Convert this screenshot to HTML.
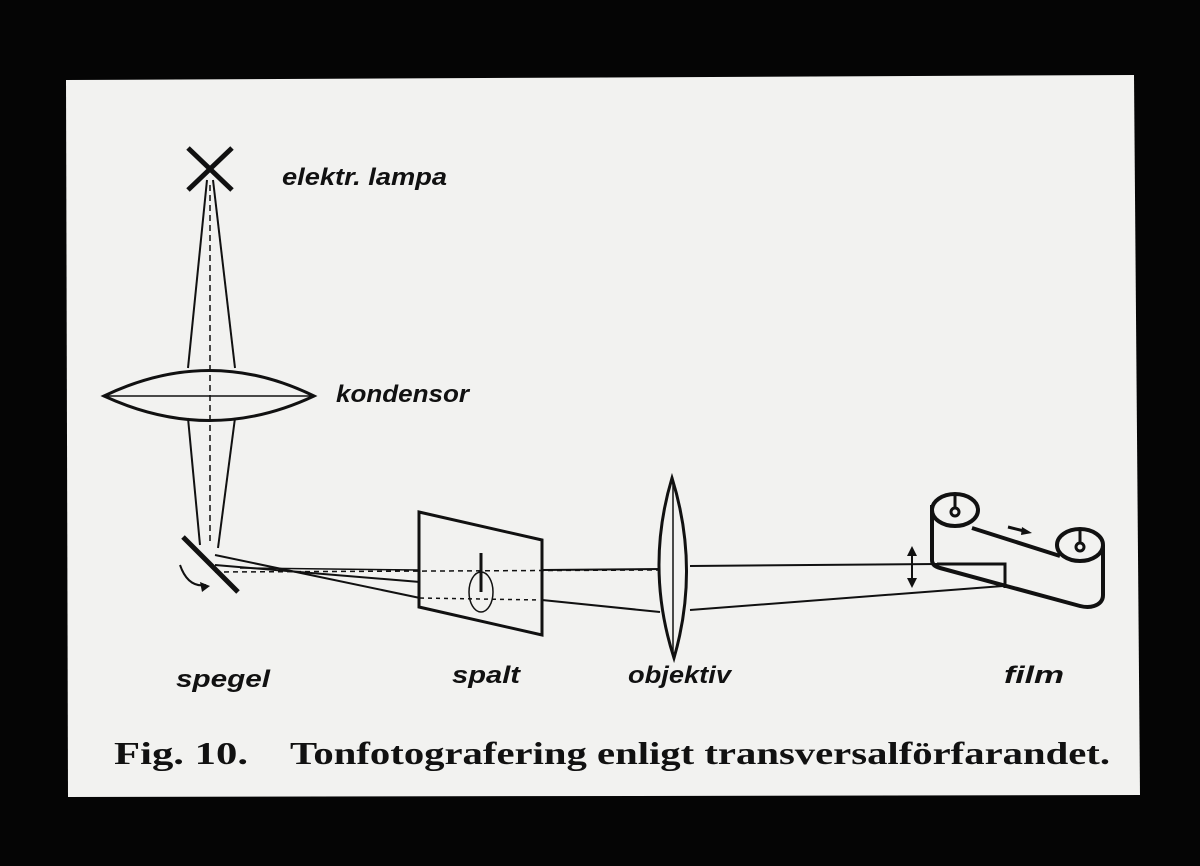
<!DOCTYPE html>
<html><head><style>
html,body{margin:0;padding:0;background:#000;}
svg{display:block;}
</style></head><body>
<svg width="1200" height="866" viewBox="0 0 1200 866" xmlns="http://www.w3.org/2000/svg">
<rect width="1200" height="866" fill="#050505"/>
<polygon points="66,80 1134,75 1140,795 68,797" fill="#f2f2f0"/>
<g stroke="#111" fill="none" stroke-width="2">
<line x1="188" y1="148" x2="232" y2="190" stroke-width="5"/>
<line x1="232" y1="148" x2="188" y2="190" stroke-width="5"/>
<line x1="207" y1="180" x2="188" y2="368"/>
<line x1="213" y1="180" x2="235" y2="368"/>
<line x1="210" y1="185" x2="210" y2="545" stroke-dasharray="6,4" stroke-width="1.5"/>
<path d="M104,396 Q210,345 314,396 Q210,445 104,396 Z" stroke-width="3"/>
<line x1="104" y1="396" x2="314" y2="396" stroke-width="1.5"/>
<line x1="188" y1="418" x2="200" y2="545"/>
<line x1="235" y1="418" x2="218" y2="548"/>
<line x1="183" y1="537" x2="238" y2="592" stroke-width="5"/>
<path d="M180,565 Q188,588 206,585" stroke-width="2"/>
<line x1="215" y1="555" x2="420" y2="598"/>
<line x1="215" y1="565" x2="420" y2="582"/>
<line x1="215" y1="572" x2="660" y2="570" stroke-dasharray="5,4" stroke-width="1.5"/>
<line x1="240" y1="568" x2="420" y2="570" stroke-width="1.5"/>
<polygon points="419,512 542,540 542,635 419,607" stroke-width="3"/>
<ellipse cx="481" cy="592" rx="12" ry="20" stroke-width="1.5"/>
<line x1="481" y1="553" x2="481" y2="592" stroke-width="3"/>
<line x1="420" y1="598" x2="540" y2="600" stroke-dasharray="4,4" stroke-width="1.5"/>
<line x1="542" y1="600" x2="660" y2="612"/>
<line x1="542" y1="570" x2="660" y2="569"/>
<path d="M672,478 Q700,568 674,658 Q645,568 672,478 Z" stroke-width="3"/>
<line x1="673" y1="480" x2="673" y2="656" stroke-width="1.5"/>
<line x1="690" y1="566" x2="937" y2="564"/>
<line x1="690" y1="610" x2="1003" y2="586"/>
<line x1="912" y1="553" x2="912" y2="582" stroke-width="2"/>
<!-- film -->
<path d="M932,505 L932,560 Q932,566 940,568 L1080,606 Q1088,608 1094,606 Q1103,603 1103,595 L1103,545" stroke-width="4"/>
<line x1="972" y1="528" x2="1060" y2="556" stroke-width="4"/>
<path d="M937,564 L1005,564 L1005,588" stroke-width="3"/>
<ellipse cx="955" cy="510" rx="23" ry="16" stroke-width="4"/>
<ellipse cx="1080" cy="545" rx="23" ry="16" stroke-width="4"/>
<circle cx="955" cy="512" r="4" stroke-width="3"/>
<circle cx="1080" cy="547" r="4" stroke-width="3"/>
<line x1="955" y1="496" x2="955" y2="508" stroke-width="3"/>
<line x1="1080" y1="531" x2="1080" y2="543" stroke-width="3"/>
<line x1="1008" y1="527" x2="1024" y2="531" stroke-width="3"/>
</g>
<g fill="#111">
<polygon points="907,556 917,556 912,546"/>
<polygon points="907,578 917,578 912,588"/>
<polygon points="200,582 210,586 202,592"/>
<polygon points="1022,527 1032,533 1021,535"/>
</g>
<g font-family="'Liberation Sans',sans-serif" font-style="italic" font-weight="bold" font-size="24" fill="#111">
<text x="282" y="185" textLength="165" lengthAdjust="spacingAndGlyphs">elektr. lampa</text>
<text x="336" y="402" textLength="133" lengthAdjust="spacingAndGlyphs">kondensor</text>
<text x="176" y="687" textLength="94" lengthAdjust="spacingAndGlyphs">spegel</text>
<text x="452" y="683" textLength="68" lengthAdjust="spacingAndGlyphs">spalt</text>
<text x="628" y="683" textLength="103" lengthAdjust="spacingAndGlyphs">objektiv</text>
<text x="1004" y="683" textLength="60" lengthAdjust="spacingAndGlyphs">film</text>
</g>
<g font-family="'Liberation Serif',serif" font-weight="bold" font-size="32" fill="#111">
<text x="114" y="764" textLength="134" lengthAdjust="spacingAndGlyphs">Fig. 10.</text>
<text x="290" y="764" textLength="820" lengthAdjust="spacingAndGlyphs">Tonfotografering enligt transversalförfarandet.</text>
</g>
</svg>
</body></html>
